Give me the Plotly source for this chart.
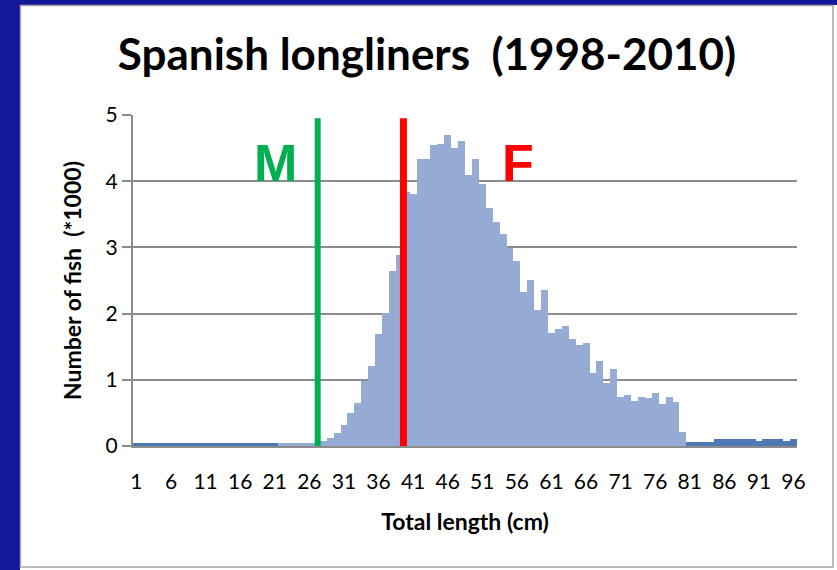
import plotly.graph_objects as go

lengths = list(range(1, 97))
counts = (
    [0.04] * 21 +
    [0.05] * 6 +
    [0.08, 0.115, 0.20, 0.32, 0.50, 0.65, 0.98, 1.21, 1.69, 2.01, 2.65, 2.89,
     3.84, 3.80, 4.34, 4.34, 4.55, 4.56, 4.70, 4.50, 4.61, 4.10, 4.34, 3.96,
     3.59, 3.39, 3.20, 2.99, 2.79, 2.32, 2.51, 2.06, 2.36, 1.70, 1.76, 1.82,
     1.61, 1.52, 1.55, 1.10, 1.28, 0.95, 1.16, 0.74, 0.77, 0.68, 0.74, 0.72,
     0.80, 0.63, 0.74, 0.66, 0.21] +
    [0.06] * 4 +
    [0.10] * 6 + [0.08] + [0.10] * 3 + [0.08, 0.10]
)
tick_labels = [str(v) for v in range(1, 97, 5)]
M_length = 27.2
F_length = 39.6

LIGHT = "#95ABD4"
DARK = "#4F79B5"
colors = [DARK if (l <= 21 or l >= 81) else LIGHT for l in lengths]

W, H = 837, 570
L, R, T, B = 133, 40, 115, 124
pw, ph = W - L - R, H - T - B


def px(x):
    return (x - L) / pw


def py(y):
    return (H - B - y) / ph


fig = go.Figure()
fig.add_trace(go.Bar(x=lengths, y=counts, marker=dict(color=colors, line=dict(width=0)),
                     width=1.0, showlegend=False))

shapes = [
    # slide frame
    dict(type="rect", xref="paper", yref="paper", x0=px(0), x1=px(20), y0=py(H), y1=py(0),
         fillcolor="#15179B", line=dict(width=0), layer="below"),
    dict(type="rect", xref="paper", yref="paper", x0=px(0), x1=px(W), y0=py(5), y1=py(0),
         fillcolor="#15179B", line=dict(width=0), layer="below"),
    dict(type="rect", xref="paper", yref="paper", x0=px(20.5), x1=px(833), y0=py(567), y1=py(5.5),
         fillcolor="rgba(0,0,0,0)", line=dict(width=1.5, color="#A6A6A6"), layer="below"),
    # maturity lines
    dict(type="line", xref="x", yref="y", x0=M_length, x1=M_length, y0=-0.06, y1=4.95,
         line=dict(color="#00B050", width=6)),
    dict(type="line", xref="x", yref="y", x0=F_length, x1=F_length, y0=-0.06, y1=4.95,
         line=dict(color="#FF0000", width=7)),
]

annotations = [
    dict(text="M", x=21.1, y=4.28, xref="x", yref="y", showarrow=False,
         font=dict(family="Liberation Sans", size=52, color="#00B050", weight="bold")),
    dict(text="F", x=56.2, y=4.28, xref="x", yref="y", showarrow=False,
         font=dict(family="Liberation Sans", size=52, color="#FF0000", weight="bold")),
]

fig.update_layout(
    width=W, height=H,
    margin=dict(l=L, r=R, t=T, b=B),
    paper_bgcolor="white", plot_bgcolor="white",
    bargap=0,
    shapes=shapes, annotations=annotations,
    title=dict(text="<b>Spanish longliners  (1998-2010)</b>", x=427 / W, xref="container",
               xanchor="center", y=1 - 55 / H, yref="container", yanchor="middle",
               font=dict(family="Lato", size=44, color="black")),
    font=dict(family="Lato", color="black"),
)
fig.update_xaxes(range=[0.5, 96.5], tickmode="array", tickvals=list(range(1, 97, 5)),
                 ticktext=tick_labels, showgrid=False, ticks="", showline=True,
                 linecolor="#8C8C8C", linewidth=2, tickfont=dict(size=21),
                 ticklabelstandoff=16,
                 title=dict(text="<b>Total length (cm)</b>", font=dict(size=23), standoff=22),
                 zeroline=False)
fig.update_yaxes(range=[0, 5], dtick=1, showgrid=True, gridcolor="#8C8C8C", gridwidth=2,
                 ticks="outside", ticklen=9, tickcolor="#8C8C8C", tickwidth=2,
                 showline=True, linecolor="#8C8C8C", linewidth=2, tickfont=dict(size=21),
                 title=dict(text="<b>Number of fish  (*1000)</b>", font=dict(size=23), standoff=18),
                 zeroline=False)

fig.write_html("out.html", config={"displayModeBar": False},
               post_script="document.body.style.margin='0px';")
